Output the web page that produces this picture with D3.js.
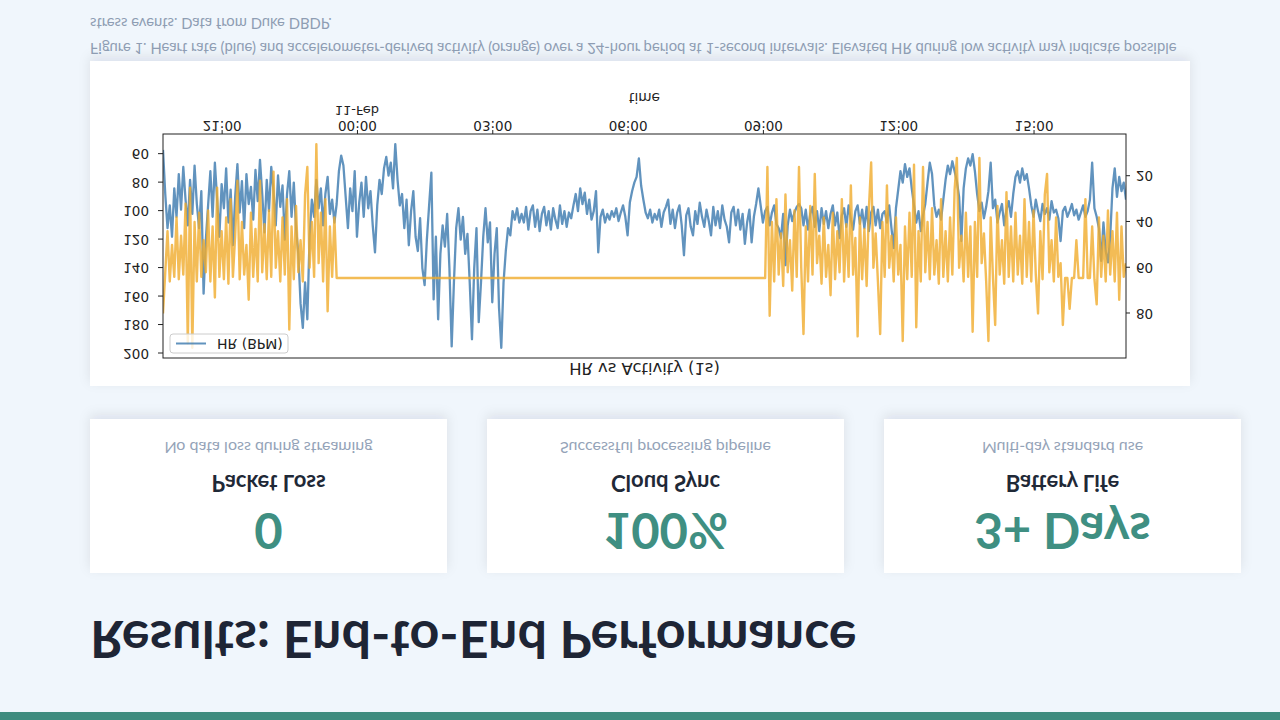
<!DOCTYPE html>
<html>
<head>
<meta charset="utf-8">
<script src="https://cdn.jsdelivr.net/npm/d3@7"></script>
<style>
  html, body { margin: 0; padding: 0; background: #f0f6fc; }
  body { width: 1280px; height: 720px; overflow: hidden; }
  svg { display: block; }
</style>
</head>
<body>
<script>
// Slide: "Results: End-to-End Performance" (the whole slide is shown upside down)

// ---- data ----
var pageTitle = "Results: End-to-End Performance";

var cardValues = ["0", "100%", "3+ Days"];
var cardLabels = ["Packet Loss", "Cloud Sync", "Battery Life"];
var cardNotes = ["No data loss during streaming", "Successful processing pipeline", "Multi-day standard use"];

var captionLines = [
  "Figure 1. Heart rate (blue) and accelerometer-derived activity (orange) over a 24-hour period at 1-second intervals. Elevated HR during low activity may indicate possible",
  "stress events. Data from Duke DBDP."
];

var chartTitle = "HR vs Activity (1s)";
var xLabel = "time";
var legendLabel = "HR (BPM)";

// samples every 3 minutes, first sample 10-Feb 19:42
var sampleStart = new Date(2024, 1, 10, 19, 42);
var sampleStepMin = 3;

// heart rate, BPM
var hrBpm = [
  57, 88,112, 96,118, 84,104, 74, 99, 69, 92,110, 78,102, 68, 95,112, 86,158,120,
  96, 72,104, 66, 92,118, 81, 98, 70,108, 85,124, 90, 67,101, 79,112, 74, 95, 83,
 106, 71, 93, 64, 88,115, 78,100, 69, 86,110, 75, 97, 82,120, 88, 72,104, 80,112,
 130,165,182,150,176,118, 92,104, 78, 98, 84,110, 88, 76,102, 92,108, 95, 72, 61,
  68, 90,112, 84,100, 72,118, 94, 80,104, 76, 98, 86,110,129, 96, 78, 88, 70, 62,
  75, 66, 84, 53, 78, 96, 88,112, 92,124,100, 86,118,128,105,140,152,120, 96, 73,
 162,118,176,130,110,125,102,140,195,150,112, 98,120,104,130,116,150,190,140,112,
 178,150,118, 98,122,108,164,130,112,168,196,150,128,112,117,100,106, 98,108,102,
 108, 97,113,100, 96,111, 99,114,102, 97,110,100,113, 98,106,112, 96,109,100,111,
 101,105, 96, 88,100, 84, 95, 87,102, 92,106,100, 86,129,104, 99,108,102,106,100,
 104, 98,107,101, 96,104,117, 94, 86, 80, 76, 63, 82, 92,101,105, 99,108,102,106,
  99,111,101, 97, 92,109, 99,112,101, 96,110,131,103, 98,111,117,100,109, 94,104,
 111, 99,107,117, 97,110,100,112, 96,106,111,122,101, 97,110, 99,113,102,123,108,
  99,122,104, 95, 84, 96,108,100, 97,110,101, 96,109,112,119,102,138,110, 99,107,
 101, 97, 95, 98,110, 99,113,102, 97,111,100,114, 98,109,100,112,102, 96,110,101,
 119,103, 98,111, 96,106,113,100, 96,109, 99,112, 97,114,101, 97,110, 99,112,102,
 100,108, 96,112,126, 98, 85, 72, 80, 67, 76, 70, 84, 96,108,100,114,103, 95, 80,
  66, 74, 96,104, 99,106, 92, 78, 68, 74, 65, 72, 79, 90,121, 84, 70, 63, 68, 60,
  72, 88,100, 94,105, 97, 86, 66, 98, 92,108,101, 95,110, 99, 93,104, 88, 76, 72,
  80, 70, 78, 74, 84, 96,104, 92,100,107, 95,102, 98,106, 93,101, 99,105,121,100,
  97,104,100, 95,103, 99,106,101, 96,104,100, 92, 66, 98,104,112,135,108,128,136,
 118, 84, 70, 90, 76, 86, 80, 92
];

// accelerometer activity (right axis)
var activity = [
  80, 62, 44, 66, 50, 64, 38, 65, 46, 63, 32, 93, 25, 95, 40, 66, 36, 64, 48, 62,
  35, 66, 42, 73, 25, 64, 44, 65, 38, 67, 30, 64, 46, 22, 65, 40, 63, 50, 74, 36,
  64, 43, 66, 22, 62, 41, 65, 35, 64, 18, 60, 44, 66, 38, 63, 30, 87, 42, 65, 33,
  62, 48, 66, 28, 16, 60, 40, 64,  6, 58, 36, 66, 30, 79, 42, 64, 38,64.5,64.5,64.5,
  64.5,64.5,64.5,64.5,64.5,64.5,64.5,64.5,64.5,64.5,64.5,64.5,64.5,64.5,64.5,64.5,64.5,64.5,64.5,64.5,
  64.5,64.5,64.5,64.5,64.5,64.5,64.5,64.5,64.5,64.5,64.5,64.5,64.5,64.5,64.5,64.5,64.5,64.5,64.5,64.5,
  64.5,64.5,64.5,64.5,64.5,64.5,64.5,64.5,64.5,64.5,64.5,64.5,64.5,64.5,64.5,64.5,64.5,64.5,64.5,64.5,
  64.5,64.5,64.5,64.5,64.5,64.5,64.5,64.5,64.5,64.5,64.5,64.5,64.5,64.5,64.5,64.5,64.5,64.5,64.5,64.5,
  64.5,64.5,64.5,64.5,64.5,64.5,64.5,64.5,64.5,64.5,64.5,64.5,64.5,64.5,64.5,64.5,64.5,64.5,64.5,64.5,
  64.5,64.5,64.5,64.5,64.5,64.5,64.5,64.5,64.5,64.5,64.5,64.5,64.5,64.5,64.5,64.5,64.5,64.5,64.5,64.5,
  64.5,64.5,64.5,64.5,64.5,64.5,64.5,64.5,64.5,64.5,64.5,64.5,64.5,64.5,64.5,64.5,64.5,64.5,64.5,64.5,
  64.5,64.5,64.5,64.5,64.5,64.5,64.5,64.5,64.5,64.5,64.5,64.5,64.5,64.5,64.5,64.5,64.5,64.5,64.5,64.5,
  64.5,64.5,64.5,64.5,64.5,64.5,64.5,64.5,64.5,64.5,64.5,64.5,64.5,64.5,64.5,64.5,64.5,64.5,64.5,64.5,
  64.5,64.5,64.5,64.5,64.5,64.5,64.5,64.5, 16, 81, 40, 66, 30, 63, 45, 68, 28, 62, 48, 70,
  35, 64, 16, 60, 89, 42, 66, 33, 63, 19, 58, 46, 67, 38, 64, 50, 72, 36, 65, 44,
  62, 30, 66, 41, 64, 24, 63, 47, 90, 38, 65, 43, 68, 34, 14, 60, 45, 66, 89, 40,
  64, 24, 60, 46, 66, 38, 63, 50, 92, 42, 65, 36, 64, 15, 86, 44, 66, 16, 62, 40,
  65, 34, 63, 48, 67, 30, 64, 44, 66, 38, 63, 26, 12, 60, 46, 66, 36, 64, 42, 88,
  40, 64, 12, 58, 45, 66, 92, 38, 64, 85, 33, 63, 48, 67, 27, 64, 42, 66, 36, 63,
  46, 67, 30, 64, 40, 66, 35, 63, 80, 44, 65, 28, 19, 62, 48, 66, 38, 64, 58, 85,
  64.5,64.5, 78,64.5,64.5, 48,64.5,64.5,64.5, 30,64.5,64.5, 42, 65, 76, 38, 64, 46, 66, 35,
  63, 44, 66, 36, 74, 42, 64, 58
];

var hrTicks = [60, 80, 100, 120, 140, 160, 180, 200];
var actTicks = [20, 40, 60, 80];
var dateLabel = "11-Feb";

// ---- layout ----
var W = 1280, H = 720;
var cardW = 357, cardH = 154, cardGap = 40, cardTop = 147, cardLeft = 90;
var panel = { x: 90, y: 334, w: 1100, h: 325 };
var plot = { left: 163, right: 1126, top: 362, bottom: 586 };

var svg = d3.select("body").append("svg")
    .attr("width", W)
    .attr("height", H);

var defs = svg.append("defs");
var shadow = defs.append("filter")
    .attr("id", "shadow")
    .attr("x", "-10%").attr("y", "-20%")
    .attr("width", "120%").attr("height", "150%");
shadow.append("feDropShadow")
    .attr("dx", 0).attr("dy", 4)
    .attr("stdDeviation", 6)
    .attr("flood-color", "#0f172a")
    .attr("flood-opacity", 0.09);

defs.append("clipPath").attr("id", "plotclip")
  .append("rect")
    .attr("x", plot.left).attr("y", plot.top)
    .attr("width", plot.right - plot.left)
    .attr("height", plot.bottom - plot.top);

svg.append("rect")
    .attr("width", W).attr("height", H)
    .attr("fill", "#f0f6fc");

// everything is drawn upright, then flipped top to bottom
var page = svg.append("g")
    .attr("transform", "translate(0," + H + ") scale(1,-1)");

// accent bar
page.append("rect")
    .attr("x", 0).attr("y", 0)
    .attr("width", W).attr("height", 8)
    .attr("fill", "#3f8c7f");

// title
page.append("text")
    .attr("x", 90).attr("y", 99)
    .style("font-family", "Lato, 'Liberation Sans', sans-serif")
    .style("font-weight", 700)
    .style("font-size", "52px")
    .attr("fill", "#1e2535")
    .text(pageTitle);

// metric cards
var cards = page.selectAll("g.card")
    .data(cardValues)
    .enter().append("g")
    .attr("class", "card")
    .attr("transform", function(d, i) { return "translate(" + (cardLeft + i * (cardW + cardGap)) + "," + cardTop + ")"; });

cards.append("rect")
    .attr("width", cardW).attr("height", cardH)
    .attr("fill", "#ffffff")
    .attr("filter", "url(#shadow)");

cards.append("text")
    .attr("x", cardW / 2).attr("y", 60)
    .attr("text-anchor", "middle")
    .style("font-family", "Lato, 'Liberation Sans', sans-serif")
    .style("font-weight", 700)
    .style("font-size", "49px")
    .attr("fill", "#3f8f82")
    .text(function(d) { return d; });

cards.append("text")
    .attr("x", cardW / 2).attr("y", 98)
    .attr("text-anchor", "middle")
    .style("font-family", "Lato, 'Liberation Sans', sans-serif")
    .style("font-weight", 700)
    .style("font-size", "22px")
    .attr("fill", "#1f2937")
    .text(function(d, i) { return cardLabels[i]; });

cards.append("text")
    .attr("x", cardW / 2).attr("y", 131)
    .attr("text-anchor", "middle")
    .style("font-family", "Lato, 'Liberation Sans', sans-serif")
    .style("font-size", "16px")
    .attr("fill", "#94a3b8")
    .text(function(d, i) { return cardNotes[i]; });

// chart panel
page.append("rect")
    .attr("x", panel.x).attr("y", panel.y)
    .attr("width", panel.w).attr("height", panel.h)
    .attr("fill", "#ffffff")
    .attr("filter", "url(#shadow)");

// caption
page.selectAll("text.caption")
    .data(captionLines)
    .enter().append("text")
    .attr("class", "caption")
    .attr("x", 90)
    .attr("y", function(d, i) { return 677 + i * 25; })
    .style("font-family", "Lato, 'Liberation Sans', sans-serif")
    .style("font-size", "14.8px")
    .attr("fill", "#8e9db3")
    .text(function(d) { return d; });

// ---- chart ----
var times = hrBpm.map(function(d, i) { return d3.timeMinute.offset(sampleStart, i * sampleStepMin); });

function padded(values) {
    var e = d3.extent(values), pad = (e[1] - e[0]) * 0.05;
    return [e[0] - pad, e[1] + pad];
}

var x = d3.scaleTime()
    .domain([times[0], times[times.length - 1]])
    .range([plot.left, plot.right]);

var yHr = d3.scaleLinear()
    .domain(padded(hrBpm))
    .range([plot.bottom, plot.top]);

var yAct = d3.scaleLinear()
    .domain(padded(activity))
    .range([plot.bottom, plot.top]);

var chart = page.append("g")
    .style("font-family", "'DejaVu Sans', sans-serif");

var lines = chart.append("g").attr("clip-path", "url(#plotclip)");

lines.append("path")
    .datum(hrBpm)
    .attr("d", d3.line()
        .x(function(d, i) { return x(times[i]); })
        .y(function(d) { return yHr(d); }))
    .attr("fill", "none")
    .attr("stroke", "#3a78ae")
    .attr("stroke-opacity", 0.8)
    .attr("stroke-width", 2.3)
    .attr("stroke-linejoin", "round");

lines.append("path")
    .datum(activity)
    .attr("d", d3.line()
        .x(function(d, i) { return x(times[i]); })
        .y(function(d) { return yAct(d); }))
    .attr("fill", "none")
    .attr("stroke", "#f0ab2c")
    .attr("stroke-opacity", 0.8)
    .attr("stroke-width", 2.4)
    .attr("stroke-linejoin", "round");

// frame
chart.append("rect")
    .attr("x", plot.left).attr("y", plot.top)
    .attr("width", plot.right - plot.left)
    .attr("height", plot.bottom - plot.top)
    .attr("fill", "none")
    .attr("stroke", "#222")
    .attr("stroke-width", 1);

var gx = chart.append("g")
    .attr("transform", "translate(0," + plot.bottom + ")")
    .call(d3.axisBottom(x)
        .ticks(d3.timeHour.every(3))
        .tickFormat(d3.timeFormat("%H:%M"))
        .tickSize(4)
        .tickPadding(-1));

var gl = chart.append("g")
    .attr("transform", "translate(" + plot.left + ",0)")
    .call(d3.axisLeft(yHr)
        .tickValues(hrTicks)
        .tickSize(5)
        .tickPadding(9));

var gr = chart.append("g")
    .attr("transform", "translate(" + plot.right + ",0)")
    .call(d3.axisRight(yAct)
        .tickValues(actTicks)
        .tickSize(4)
        .tickPadding(6));

[gx, gl, gr].forEach(function(g) {
    g.select(".domain").remove();
    g.selectAll(".tick line").attr("stroke", "#222");
    g.selectAll(".tick text")
        .attr("fill", "#222")
        .style("font-family", "'DejaVu Sans', sans-serif")
        .style("font-size", "13.5px");
});

// date under midnight tick
var midnight = x.ticks(d3.timeHour.every(3)).filter(function(t) { return t.getHours() === 0; })[0];
chart.append("text")
    .attr("x", x(midnight)).attr("y", 614.5)
    .attr("text-anchor", "middle")
    .attr("fill", "#222")
    .style("font-size", "13px")
    .text(dateLabel);

chart.append("text")
    .attr("x", (plot.left + plot.right) / 2).attr("y", 627)
    .attr("text-anchor", "middle")
    .attr("fill", "#222")
    .style("font-size", "13.7px")
    .text(xLabel);

chart.append("text")
    .attr("x", (plot.left + plot.right) / 2).attr("y", 357)
    .attr("text-anchor", "middle")
    .attr("fill", "#222")
    .style("font-size", "16.4px")
    .text(chartTitle);

// legend
var legend = chart.append("g").attr("transform", "translate(170,367)");
legend.append("rect")
    .attr("width", 118).attr("height", 19)
    .attr("rx", 3)
    .attr("fill", "#ffffff").attr("fill-opacity", 0.8)
    .attr("stroke", "#cccccc");
legend.append("line")
    .attr("x1", 6).attr("x2", 36)
    .attr("y1", 9.5).attr("y2", 9.5)
    .attr("stroke", "#3a78ae").attr("stroke-opacity", 0.8)
    .attr("stroke-width", 2);
legend.append("text")
    .attr("x", 47).attr("y", 14.5)
    .attr("fill", "#222")
    .style("font-size", "14px")
    .text(legendLabel);
</script>
</body>
</html>
